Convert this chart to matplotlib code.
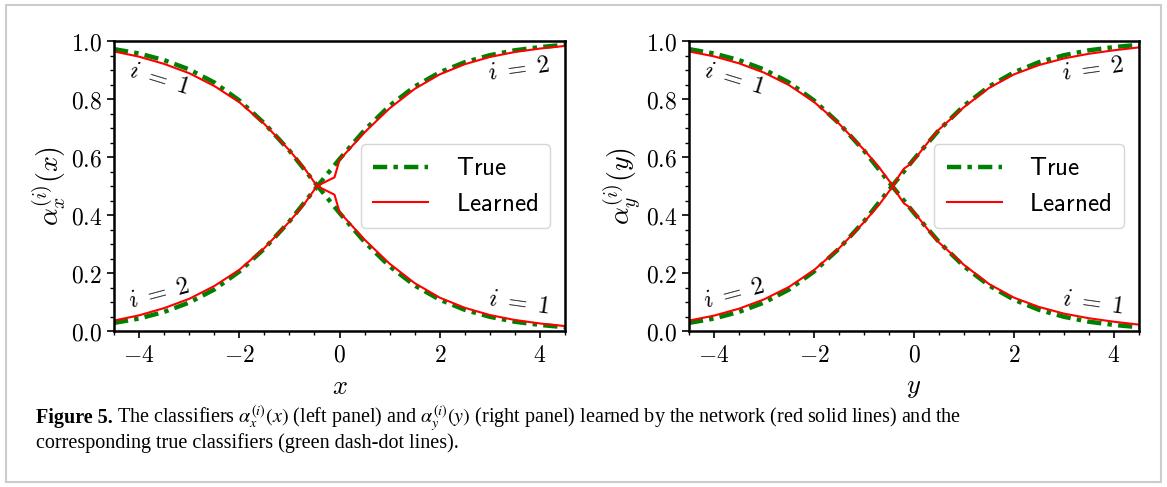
import matplotlib
matplotlib.use("Agg")
import matplotlib.pyplot as plt
from matplotlib.patches import Rectangle

plt.rcParams['mathtext.fontset'] = 'cm'
plt.rcParams['font.family'] = ['DejaVu Sans']

# sample points along the horizontal axis (shared by both panels)
x_true = [-4.5, -4.0, -3.5, -3.0, -2.5, -2.0, -1.5, -1.0, -0.5, 0.0,
          0.5, 1.0, 1.5, 2.0, 2.5, 3.0, 3.5, 4.0, 4.5]
true_1 = [0.972, 0.957, 0.934, 0.902, 0.857, 0.795, 0.716, 0.622, 0.513, 0.407,
          0.307, 0.223, 0.157, 0.108, 0.073, 0.049, 0.032, 0.021, 0.013]
true_2 = [0.028, 0.043, 0.066, 0.098, 0.143, 0.205, 0.284, 0.378, 0.487, 0.593,
          0.693, 0.777, 0.843, 0.892, 0.927, 0.951, 0.968, 0.979, 0.987]

# left panel, learned classifier alpha_x
x_left = [-4.5, -4.0, -3.5, -3.0, -2.5, -2.0, -1.5, -1.0, -0.7, -0.45,
          -0.1, 0.0, 0.5, 1.0, 1.5, 2.0, 2.5, 3.0, 3.5, 4.0, 4.5]
learned_x1 = [0.964, 0.946, 0.921, 0.889, 0.845, 0.789, 0.714, 0.623, 0.561, 0.5,
              0.47, 0.41, 0.315, 0.232, 0.165, 0.115, 0.08, 0.055, 0.038, 0.026, 0.017]
learned_x2 = [0.036, 0.054, 0.079, 0.111, 0.155, 0.211, 0.286, 0.377, 0.439, 0.5,
              0.53, 0.59, 0.685, 0.768, 0.835, 0.885, 0.92, 0.945, 0.962, 0.974, 0.983]

# right panel, learned classifier alpha_y
x_right = [-4.5, -4.0, -3.5, -3.0, -2.5, -2.0, -1.5, -1.0, -0.7, -0.42,
           -0.3, -0.2, -0.1, 0.0, 0.3, 0.5, 1.0, 1.5, 2.0, 2.5, 3.0, 3.5, 4.0, 4.5]
learned_y1 = [0.964, 0.947, 0.923, 0.891, 0.848, 0.79, 0.715, 0.625, 0.565, 0.5,
              0.465, 0.44, 0.428, 0.41, 0.345, 0.305, 0.228, 0.162, 0.115, 0.083, 0.06,
              0.044, 0.032, 0.022]
learned_y2 = [0.036, 0.053, 0.077, 0.109, 0.152, 0.21, 0.285, 0.375, 0.435, 0.5,
              0.535, 0.56, 0.572, 0.59, 0.655, 0.695, 0.772, 0.838, 0.885, 0.917, 0.94,
              0.956, 0.968, 0.978]

xticks = [-4, -2, 0, 2, 4]
xtick_labels = [r'$-4$', r'$-2$', r'$0$', r'$2$', r'$4$']
yticks = [0.0, 0.2, 0.4, 0.6, 0.8, 1.0]
ytick_labels = [r'$0.0$', r'$0.2$', r'$0.4$', r'$0.6$', r'$0.8$', r'$1.0$']

fig = plt.figure(figsize=(11.67, 4.87), dpi=100)
fig.patches.append(Rectangle((0.005, 0.01), 0.99, 0.98, transform=fig.transFigure,
                             fill=False, edgecolor='#cccccc', lw=1.5))

panels = [
    ([0.0977, 0.3203, 0.3865, 0.5955], x_left, learned_x1, learned_x2,
     r'$\alpha_x^{(i)}(x)$', r'$x$'),
    ([0.5904, 0.3203, 0.3856, 0.5955], x_right, learned_y1, learned_y2,
     r'$\alpha_y^{(i)}(y)$', r'$y$'),
]

for rect, xs, l1, l2, ylab, xlab in panels:
    ax = fig.add_axes(rect)
    dash = dict(color='green', lw=3.2, dashes=[3.2, 1.4, 1.0, 1.4])
    ax.plot(x_true, true_1, label=r'$\mathsf{True}$', **dash)
    ax.plot(x_true, true_2, **dash)
    ax.plot(xs, l1, color='red', lw=1.5, label=r'$\mathsf{Learned}$')
    ax.plot(xs, l2, color='red', lw=1.5)
    ax.set_xlim(-4.5, 4.5)
    ax.set_ylim(0, 1)
    ax.set_xticks(xticks)
    ax.set_xticklabels(xtick_labels)
    ax.set_yticks(yticks)
    ax.set_yticklabels(ytick_labels)
    ax.set_xticks([v / 2 for v in range(-9, 10)], minor=True)
    ax.set_yticks([v / 20 for v in range(21)], minor=True)
    ax.tick_params(which='major', labelsize=17, length=5, width=1.2)
    ax.tick_params(which='minor', length=3, width=1)
    for s in ax.spines.values():
        s.set_linewidth(1.8)
    ax.set_ylabel(ylab, fontsize=20, labelpad=2)
    ax.set_xlabel(xlab, fontsize=19, labelpad=5)
    ax.legend(loc='center right', fontsize=18, handlelength=2.2, borderpad=0.5,
              labelspacing=0.45, handletextpad=1.1, borderaxespad=0.6)
    ax.text(-3.6, 0.872, r'$i\;=\;1$', fontsize=18, rotation=-17, ha='center', va='center')
    ax.text(3.57, 0.903, r'$i\;=\;2$', fontsize=18, rotation=8, ha='center', va='center')
    ax.text(-3.6, 0.13, r'$i\;=\;2$', fontsize=18, rotation=15, ha='center', va='center')
    ax.text(3.57, 0.10, r'$i\;=\;1$', fontsize=18, rotation=-8, ha='center', va='center')

cap = dict(family='Liberation Serif', fontsize=14.5, math_fontfamily='stix', va='baseline')
bold = fig.text(36 / 1167, 1 - 423 / 487, 'Figure 5.', weight='bold', **cap)
fig.canvas.draw()
bb = bold.get_window_extent()
fig.text((bb.x1 + 4) / 1167, 1 - 423 / 487,
         r'The classifiers $\alpha_x^{(i)}(x)$ (left panel) and $\alpha_y^{(i)}(y)$ '
         r'(right panel) learned by the network (red solid lines) and the', **cap)
fig.text(36 / 1167, 1 - 448 / 487,
         'corresponding true classifiers (green dash-dot lines).', **cap)

fig.savefig('out.png', dpi=100)
